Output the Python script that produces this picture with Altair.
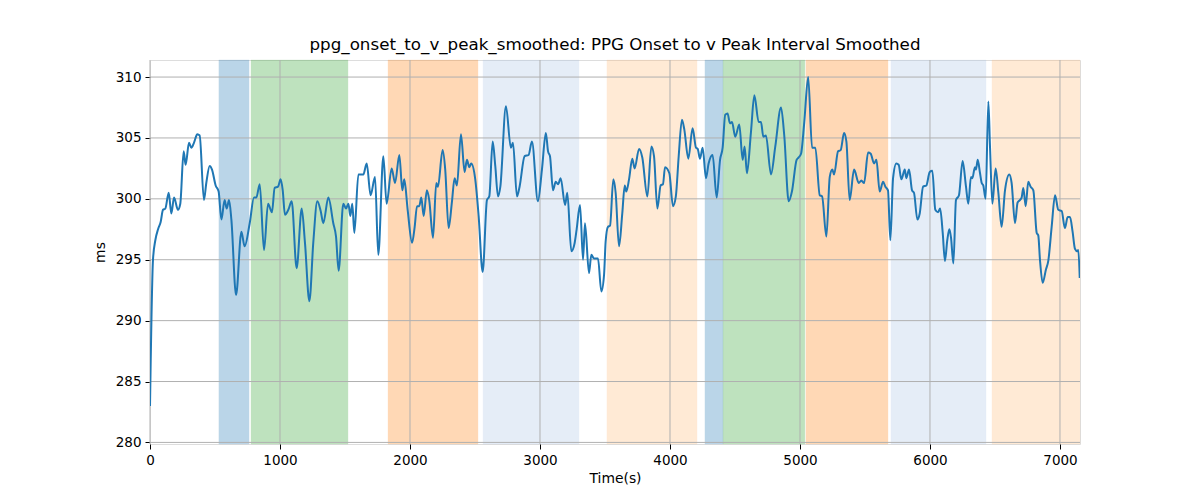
import altair as alt
import pandas as pd

# ---- line data (time in s, value in ms) ----
time_s = [0, 23, 41, 62, 82, 100, 118, 144, 164, 185, 215, 233, 259, 274, 300, 318, 338, 364, 382,
          415, 433, 459, 477, 505, 528, 549, 574, 590, 608, 626, 662, 703, 728, 767, 800, 818, 844,
          877, 908, 938, 959, 985, 1005, 1021, 1038, 1064, 1090, 1128, 1167, 1192, 1226, 1256, 1287,
          1313, 1333, 1372, 1410, 1431, 1451, 1487, 1508, 1526, 1541, 1556, 1572, 1603, 1641, 1667,
          1697, 1731, 1756, 1795, 1820, 1859, 1885, 1918, 1941, 1956, 1982, 2016, 2036, 2054, 2071,
          2087, 2105, 2130, 2148, 2177, 2202, 2215, 2251, 2271, 2297, 2323, 2343, 2361, 2392, 2420,
          2438, 2456, 2471, 2502, 2528, 2559, 2592, 2610, 2636, 2656, 2677, 2695, 2738, 2776, 2792,
          2823, 2843, 2882, 2912, 2938, 2984, 3015, 3045, 3062, 3077, 3100, 3121, 3139, 3159, 3193,
          3210, 3241, 3267, 3282, 3308, 3331, 3346, 3377, 3395, 3416, 3446, 3472, 3493, 3505, 3523,
          3539, 3564, 3582, 3608, 3633, 3652, 3664, 3685, 3710, 3728, 3762, 3787, 3826, 3857, 3877,
          3903, 3928, 3946, 3962, 3995, 4023, 4045, 4067, 4092, 4110, 4141, 4174, 4200, 4213, 4231,
          4251, 4277, 4297, 4328, 4359, 4385, 4405, 4425, 4443, 4461, 4477, 4502, 4533, 4559, 4574,
          4592, 4623, 4649, 4682, 4700, 4718, 4738, 4777, 4810, 4854, 4879, 4913, 4938, 4974, 4990,
          5008, 5033, 5063, 5093, 5118, 5152, 5170, 5203, 5229, 5249, 5262, 5293, 5313, 5339, 5357,
          5382, 5416, 5452, 5472, 5493, 5524, 5544, 5570, 5588, 5613, 5639, 5657, 5677, 5695, 5716,
          5741, 5759, 5780, 5806, 5818, 5839, 5862, 5877, 5903, 5921, 5947, 5972, 5998, 6018, 6041,
          6062, 6078, 6098, 6115, 6133, 6149, 6162, 6180, 6200, 6223, 6251, 6277, 6295, 6315, 6326,
          6346, 6354, 6367, 6385, 6398, 6410, 6428, 6449, 6462, 6480, 6505, 6526, 6551, 6577, 6610,
          6628, 6654, 6674, 6692, 6705, 6718, 6736, 6756, 6774, 6795, 6821, 6833, 6846, 6867, 6892,
          6910, 6936, 6962, 6987, 7013, 7038, 7059, 7077, 7097, 7115, 7133, 7141, 7152]
values_ms = [283.0, 295.0, 296.6, 297.5, 298.1, 299.1, 299.2, 300.5, 298.8, 300.1, 299.1, 299.6, 303.9,
             302.8, 304.6, 304.2, 304.6, 305.3, 305.2, 299.9, 301.3, 302.7, 302.4, 301.1, 300.6, 298.3,
             299.9, 299.2, 299.9, 298.3, 292.1, 297.3, 296.1, 298.0, 300.1, 300.1, 301.2, 295.8, 299.6,
             298.9, 300.9, 301.0, 301.6, 300.7, 298.7, 299.1, 299.8, 294.3, 299.2, 296.4, 291.6, 296.4,
             299.8, 299.0, 298.0, 300.1, 298.0, 296.9, 294.1, 299.6, 299.2, 299.6, 298.6, 299.6, 297.2,
             302.0, 302.0, 302.9, 300.3, 301.8, 295.4, 303.5, 299.6, 302.5, 301.3, 303.6, 300.7, 301.6,
             299.1, 296.4, 297.7, 299.4, 299.4, 300.1, 298.6, 300.7, 299.9, 296.8, 301.3, 301.0, 304.0,
             302.4, 297.6, 299.8, 301.7, 301.1, 305.3, 302.2, 303.2, 302.6, 302.9, 301.6, 298.6, 294.0,
             299.9, 300.2, 304.7, 302.7, 300.2, 301.0, 307.6, 304.2, 304.6, 300.2, 301.0, 303.5, 303.6,
             304.7, 299.8, 302.4, 305.4, 303.9, 303.5, 300.7, 301.4, 301.2, 301.7, 299.5, 300.5, 295.7,
             296.4, 297.5, 299.5, 295.0, 298.0, 293.9, 295.4, 295.1, 295.1, 292.4, 293.8, 296.5, 297.7,
             297.8, 301.6, 300.5, 296.1, 298.8, 301.1, 300.6, 301.6, 303.3, 302.5, 304.1, 303.4, 300.2,
             304.3, 303.5, 299.2, 301.1, 301.2, 302.6, 302.1, 299.4, 300.2, 303.5, 306.5, 305.7, 303.3,
             305.8, 304.2, 304.1, 303.3, 304.2, 301.7, 302.9, 303.6, 300.1, 303.2, 304.2, 306.9, 307.0,
             306.2, 306.3, 305.1, 306.1, 303.2, 304.3, 302.1, 305.5, 308.5, 306.3, 306.3, 305.1, 305.2,
             302.0, 304.3, 307.5, 305.2, 299.8, 300.6, 303.2, 303.4, 303.7, 306.3, 310.0, 304.2, 304.2,
             300.3, 300.2, 296.9, 301.8, 302.4, 302.0, 303.9, 304.0, 305.4, 304.7, 299.9, 302.4, 301.3,
             301.5, 301.3, 303.8, 303.7, 302.9, 303.2, 300.6, 301.4, 301.0, 300.7, 296.6, 301.7, 302.9,
             302.8, 301.6, 302.4, 301.7, 302.4, 300.7, 300.5, 298.3, 298.8, 301.0, 301.1, 302.2, 302.3,
             299.1, 298.9, 299.2, 297.2, 294.9, 296.6, 297.5, 296.8, 294.7, 299.9, 300.3, 303.1, 301.0,
             299.6, 301.8, 301.7, 302.6, 302.4, 303.2, 302.1, 301.3, 301.1, 300.0, 308.0, 304.2, 299.6,
             302.5, 300.5, 297.7, 300.7, 302.0, 301.3, 298.0, 299.7, 299.9, 300.1, 300.9, 299.4, 301.4,
             301.0, 300.7, 297.2, 297.0, 295.0, 293.1, 294.2, 294.9, 297.7, 300.3, 299.1, 299.0, 297.6,
             298.5, 298.5, 297.3, 295.9, 295.7, 295.8, 293.5]

# ---- shaded segments ----
seg_start = [530, 777, 1831, 2562, 3515, 4269, 4408, 5046, 5700, 6477]
seg_end = [762, 1523, 2523, 3300, 4208, 4408, 5038, 5677, 6431, 7154]
seg_kind = ["blue", "green", "orange", "lightblue", "lightorange",
            "blue", "green", "orange", "lightblue", "lightorange"]
kind_names = ["blue", "green", "orange", "lightblue", "lightorange"]
kind_colors = ["#1f77b4", "#2ca02c", "#ff7f0e", "#aac4e6", "#ffbb78"]

# ---- ticks ----
x_ticks = [0, 1000, 2000, 3000, 4000, 5000, 6000, 7000]
y_ticks = [280, 285, 290, 295, 300, 305, 310]
x_domain = [0, 7154]
y_domain = [279.87, 311.4]

line_df = pd.DataFrame({"t": time_s, "v": values_ms})
seg_df = pd.DataFrame({"s": seg_start, "e": seg_end, "k": seg_kind})
xt_df = pd.DataFrame({"t": x_ticks})
yt_df = pd.DataFrame({"v": y_ticks})

FONT = "DejaVu Sans"
xscale = alt.Scale(domain=x_domain, nice=False, zero=False)
yscale = alt.Scale(domain=y_domain, nice=False, zero=False)

xaxis = alt.Axis(values=x_ticks, format="d", grid=False, domain=False, tickColor="black",
                 tickSize=5, tickWidth=1, labelFont=FONT, labelFontSize=13.5, labelColor="black",
                 labelPadding=4, labelFlush=False, titleFont=FONT, titleFontSize=13.9,
                 titleFontWeight="normal", titleColor="black", titlePadding=5)
yaxis = alt.Axis(values=y_ticks, format="d", grid=False, domain=False, tickColor="black",
                 tickSize=5, tickWidth=1, labelFont=FONT, labelFontSize=13.5, labelColor="black",
                 labelPadding=4, labelFlush=False, titleFont=FONT, titleFontSize=13.9,
                 titleFontWeight="normal", titleColor="black", titlePadding=8)

spans = alt.Chart(seg_df).mark_rect(opacity=0.3, strokeOpacity=0.3, strokeWidth=1).encode(
    x=alt.X("s:Q", scale=xscale, axis=xaxis, title="Time(s)"),
    x2="e:Q",
    color=alt.Color("k:N", scale=alt.Scale(domain=kind_names, range=kind_colors), legend=None),
    stroke=alt.Stroke("k:N", scale=alt.Scale(domain=kind_names, range=kind_colors), legend=None),
)

xgrid = alt.Chart(xt_df).mark_rule(color="#b0b0b0", strokeWidth=1).encode(
    x=alt.X("t:Q", scale=xscale)
)
ygrid = alt.Chart(yt_df).mark_rule(color="#b0b0b0", strokeWidth=1).encode(
    y=alt.Y("v:Q", scale=yscale, axis=yaxis, title="ms")
)

line = alt.Chart(line_df).mark_line(color="#1f77b4", strokeWidth=2, clip=True,
                                    interpolate="monotone").encode(
    x=alt.X("t:Q", scale=xscale),
    y=alt.Y("v:Q", scale=yscale),
)

chart = alt.layer(spans, xgrid, ygrid, line).resolve_scale(color="independent").properties(
    width=930,
    height=384,
    padding={"left": 142, "top": 52, "right": 112, "bottom": 48},
    autosize=alt.AutoSizeParams(type="none"),
    title=alt.TitleParams(
        "ppg_onset_to_v_peak_smoothed: PPG Onset to v Peak Interval Smoothed",
        font=FONT, fontSize=16.7, fontWeight="normal", color="black", anchor="middle", offset=6,
    ),
).configure_view(stroke="black", strokeWidth=1).configure(background="white")

chart.save("out.html", embed_options={"renderer": "svg", "actions": False})
